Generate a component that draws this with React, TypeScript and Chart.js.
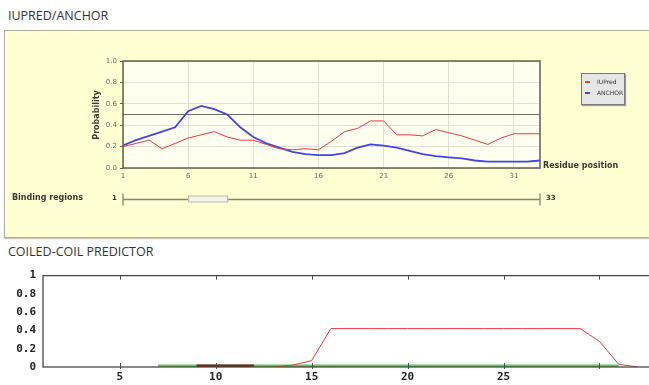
import React, { useEffect, useRef } from "react";
import { Chart, registerables } from "chart.js";

Chart.register(...registerables);

// ---------- IUPRED / ANCHOR data ----------
const residues = [1, 2, 3, 4, 5, 6, 7, 8, 9, 10, 11, 12, 13, 14, 15, 16, 17, 18, 19, 20, 21, 22, 23, 24, 25, 26, 27, 28, 29, 30, 31, 32, 33];
const iupred = [0.20, 0.23, 0.26, 0.18, 0.23, 0.28, 0.31, 0.34, 0.29, 0.26, 0.26, 0.22, 0.18, 0.17, 0.18, 0.17, 0.25, 0.34, 0.37, 0.44, 0.44, 0.31, 0.31, 0.30, 0.36, 0.33, 0.30, 0.26, 0.22, 0.28, 0.32, 0.32, 0.32];
const anchor = [0.21, 0.26, 0.30, 0.34, 0.38, 0.53, 0.58, 0.55, 0.50, 0.38, 0.29, 0.23, 0.19, 0.15, 0.13, 0.12, 0.12, 0.14, 0.19, 0.22, 0.21, 0.19, 0.16, 0.13, 0.11, 0.10, 0.09, 0.07, 0.06, 0.06, 0.06, 0.06, 0.07];
const thresholdValue = 0.5;
const topXTicks = [1, 6, 11, 16, 21, 26, 31];
const topYTicks = [0, 0.2, 0.4, 0.6, 0.8, 1.0];
const bindingStart = 1;
const bindingEnd = 33;
const bindingRegionStarts = [6];
const bindingRegionEnds = [9];

// ---------- Coiled-coil data ----------
const coilResidues = residues;
const coilRed = [null, null, null, null, null, null, null, null, null, null, null, null, 0.0, 0.02, 0.07, 0.42, 0.42, 0.42, 0.42, 0.42, 0.42, 0.42, 0.42, 0.42, 0.42, 0.42, 0.42, 0.42, 0.42, 0.28, 0.03, 0.0, null];
const coilGreen = [null, null, null, null, null, null, 0.01, 0.01, 0.01, 0.01, 0.01, 0.01, 0.01, 0.01, 0.01, 0.01, 0.01, 0.01, 0.01, 0.01, 0.01, 0.01, 0.01, 0.01, 0.01, 0.01, 0.01, 0.01, 0.01, 0.01, 0.01, null, null];
const coilBrown = [null, null, null, null, null, null, null, null, 0.01, 0.01, 0.01, 0.01, null, null, null, null, null, null, null, null, null, null, null, null, null, null, null, null, null, null, null, null, null];
const coilXTicks = [5, 10, 15, 20, 25, 30];
const coilXTickLabels = ["5", "10", "15", "20", "25", ""];
const coilYTicks = [0, 0.2, 0.4, 0.6, 0.8, 1];

const toXY = (xs: number[], ys: (number | null)[]) => xs.map((x, i) => ({ x, y: ys[i] }));

export default function App() {
  const topRef = useRef<HTMLCanvasElement>(null);
  const botRef = useRef<HTMLCanvasElement>(null);

  useEffect(() => {
    const plotBg = {
      id: "plotBg",
      beforeDraw(chart: any, _a: any, opts: any) {
        const { ctx, chartArea: a } = chart;
        ctx.save();
        ctx.fillStyle = opts.color;
        ctx.fillRect(a.left, a.top, a.right - a.left, a.bottom - a.top);
        ctx.restore();
      },
    };
    const frameTop = {
      id: "frameTop",
      afterDatasetsDraw(chart: any) {
        const { ctx, chartArea: a } = chart;
        ctx.save();
        ctx.strokeStyle = "#5f5f4a";
        ctx.lineWidth = 1.5;
        ctx.strokeRect(a.left, a.top, a.right - a.left, a.bottom - a.top);
        ctx.restore();
      },
    };
    const binding = {
      id: "binding",
      afterDraw(chart: any) {
        const { ctx, chartArea: a, scales } = chart;
        const xs = scales.x;
        const y = a.bottom + 31.5;
        const x0 = xs.getPixelForValue(bindingStart);
        const x1 = xs.getPixelForValue(bindingEnd);
        ctx.save();
        ctx.strokeStyle = "#86866a";
        ctx.lineWidth = 1.3;
        ctx.beginPath();
        ctx.moveTo(x0, y);
        ctx.lineTo(x1, y);
        ctx.moveTo(x0, y - 6);
        ctx.lineTo(x0, y + 6);
        ctx.moveTo(x1, y - 6);
        ctx.lineTo(x1, y + 6);
        ctx.stroke();
        bindingRegionStarts.forEach((s, i) => {
          const rx0 = xs.getPixelForValue(s);
          const rx1 = xs.getPixelForValue(bindingRegionEnds[i]);
          ctx.fillStyle = "#f3f3ea";
          ctx.fillRect(rx0, y - 3, rx1 - rx0, 6);
          ctx.strokeStyle = "#b8b8b0";
          ctx.lineWidth = 1;
          ctx.strokeRect(rx0 + 0.5, y - 3.5, rx1 - rx0, 6);
        });
        ctx.restore();
      },
    };

    const top = new Chart(topRef.current!, {
      type: "line",
      data: {
        datasets: [
          { label: "IUPred", data: toXY(residues, iupred), borderColor: "#ee3a3a", borderWidth: 1, pointRadius: 0, tension: 0 },
          { label: "ANCHOR", data: toXY(residues, anchor), borderColor: "#4444e4", borderWidth: 1.8, pointRadius: 0, tension: 0 },
          { label: "threshold", data: [{ x: residues[0], y: thresholdValue }, { x: residues[residues.length - 1], y: thresholdValue }], borderColor: "#707068", borderWidth: 1, pointRadius: 0 },
        ],
      },
      options: {
        animation: false,
        responsive: false,
        maintainAspectRatio: false,
        layout: { padding: { left: 93, right: 109, top: 31, bottom: 56 } },
        plugins: { legend: { display: false }, tooltip: { enabled: false }, plotBg: { color: "#fffff0" } } as any,
        scales: {
          x: {
            type: "linear",
            min: 1,
            max: 33,
            afterBuildTicks: (s: any) => { s.ticks = topXTicks.map((v) => ({ value: v })); },
            afterFit: (s: any) => { s.height = 14; },
            grid: { color: "#e0e0d4", drawTicks: false },
            border: { display: false },
            ticks: { font: { size: 7, family: "DejaVu Sans" }, color: "#666", padding: 4, maxRotation: 0, autoSkip: false },
          },
          y: {
            min: 0,
            max: 1,
            afterBuildTicks: (s: any) => { s.ticks = topYTicks.map((v) => ({ value: v })); },
            afterFit: (s: any) => { s.width = 30; },
            grid: { color: "#e0e0d4", tickLength: 3, tickColor: "#5f5f4a" },
            border: { display: false },
            ticks: { font: { size: 7, family: "DejaVu Sans" }, color: "#666", padding: 3, callback: (v: any) => Number(v).toFixed(1) },
          },
        },
      },
      plugins: [plotBg, frameTop, binding],
    });

    const botFrame = {
      id: "botFrame",
      afterDatasetsDraw(chart: any) {
        const { ctx, chartArea: a, scales } = chart;
        ctx.save();
        ctx.strokeStyle = "#4a4a4a";
        ctx.lineWidth = 1.3;
        ctx.strokeRect(a.left, a.top, a.right - a.left, a.bottom - a.top);
        ctx.lineWidth = 1;
        ctx.beginPath();
        coilXTicks.forEach((v) => {
          const px = Math.round(scales.x.getPixelForValue(v)) + 0.5;
          ctx.moveTo(px, a.top);
          ctx.lineTo(px, a.top + 4);
          ctx.moveTo(px, a.bottom + 2);
          ctx.lineTo(px, a.bottom - 4);
        });
        ctx.stroke();
        ctx.restore();
      },
    };

    const bot = new Chart(botRef.current!, {
      type: "line",
      data: {
        datasets: [
          { label: "window 14", data: toXY(coilResidues, coilRed), borderColor: "#e83a3e", borderWidth: 1, pointRadius: 0, tension: 0 },
          { label: "window 28", data: toXY(coilResidues, coilBrown), borderColor: "#7a2010", borderWidth: 3, pointRadius: 0, tension: 0 },
          { label: "window 21", data: toXY(coilResidues, coilGreen), borderColor: "#5cc45c", borderWidth: 3, pointRadius: 0, tension: 0 },
        ],
      },
      options: {
        animation: false,
        responsive: false,
        maintainAspectRatio: false,
        layout: { padding: { left: 0, right: 23, top: 12, bottom: 2 } },
        plugins: { legend: { display: false }, tooltip: { enabled: false } },
        scales: {
          x: {
            type: "linear",
            min: 1,
            max: 33,
            afterBuildTicks: (s: any) => { s.ticks = coilXTicks.map((v) => ({ value: v })); },
            afterFit: (s: any) => { s.height = 16; },
            grid: { display: false, drawTicks: false },
            border: { display: false },
            ticks: {
              font: { size: 11, family: "DejaVu Sans Mono", weight: "bold" },
              color: "#222",
              padding: 4,
              maxRotation: 0,
              autoSkip: false,
              callback: (v: any) => coilXTickLabels[coilXTicks.indexOf(Number(v))] ?? "",
            },
          },
          y: {
            min: 0,
            max: 1,
            afterBuildTicks: (s: any) => { s.ticks = coilYTicks.map((v) => ({ value: v })); },
            afterFit: (s: any) => { s.width = 43; },
            grid: { display: false, drawTicks: false },
            border: { display: false },
            ticks: { font: { size: 11, family: "DejaVu Sans Mono", weight: "bold" }, color: "#222", padding: 7, callback: (v: any) => String(Math.round(Number(v) * 10) / 10) },
          },
        },
      },
      plugins: [botFrame],
    });

    return () => {
      top.destroy();
      bot.destroy();
    };
  }, []);

  const abs = (s: React.CSSProperties): React.CSSProperties => ({ position: "absolute", lineHeight: 1, whiteSpace: "nowrap", ...s });

  return (
    <div style={{ position: "fixed", left: 0, top: 0, width: 649, height: 385, overflow: "hidden", background: "#ffffff" }}>
      <div style={abs({ left: 8, top: 10, fontFamily: "'Open Sans'", fontSize: 12.5, color: "#333" })}>IUPRED/ANCHOR</div>
      <div style={abs({ left: 4, top: 30, width: 680, height: 206, background: "#ffffd2", border: "1px solid #b0b09a", boxShadow: "0 1px 1px #c8c8c0" })} />
      <canvas ref={topRef} width={649} height={208} style={{ position: "absolute", left: 0, top: 30, display: "block" }} />
      <div style={abs({ left: 97, top: 115, transform: "translate(-50%, -50%) rotate(-90deg)", fontFamily: "DejaVu Sans", fontWeight: "bold", fontSize: 8, color: "#3a3a30" })}>Probability</div>
      <div style={abs({ left: 543, top: 162, fontFamily: "DejaVu Sans", fontWeight: "bold", fontSize: 8, color: "#3a3a30" })}>Residue position</div>
      <div style={abs({ left: 581, top: 73, width: 42, height: 30, background: "#e6e6e6", border: "1px solid #7a7a7a", boxShadow: "1px 1px 1px #a0a0a0", fontFamily: "DejaVu Sans", fontSize: 6, color: "#333" })}>
        <div style={abs({ left: 3, top: 7, width: 5, height: 1.5, background: "#ee3a3a" })} />
        <div style={abs({ left: 15, top: 5 })}>IUPred</div>
        <div style={abs({ left: 3, top: 18, width: 5, height: 1.5, background: "#4444e4" })} />
        <div style={abs({ left: 15, top: 16 })}>ANCHOR</div>
      </div>
      <div style={abs({ left: 12, top: 194, fontFamily: "DejaVu Sans", fontWeight: "bold", fontSize: 8, color: "#3a3a30" })}>Binding regions</div>
      <div style={abs({ left: 112, top: 195, fontFamily: "DejaVu Sans", fontWeight: "bold", fontSize: 7, color: "#3a3a30" })}>{bindingStart}</div>
      <div style={abs({ left: 546, top: 195, fontFamily: "DejaVu Sans", fontWeight: "bold", fontSize: 7, color: "#3a3a30" })}>{bindingEnd}</div>
      <div style={abs({ left: 8, top: 246, fontFamily: "'Open Sans'", fontSize: 12.5, color: "#333" })}>COILED-COIL PREDICTOR</div>
      <canvas ref={botRef} width={680} height={123} style={{ position: "absolute", left: 0, top: 262, display: "block" }} />
    </div>
  );
}
